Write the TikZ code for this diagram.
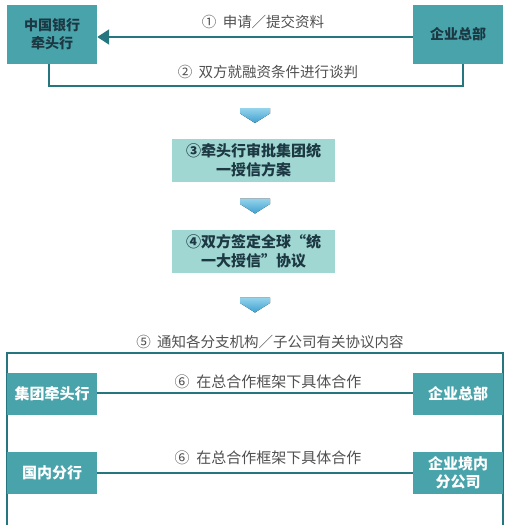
\documentclass[tikz,border=0pt]{standalone}
\usepackage{fontspec}
\usepackage{xcolor}
\usepackage{tikz}
\usetikzlibrary{arrows.meta,positioning,calc}
\newfontfamily\cjk{Noto Sans CJK SC}
\definecolor{tealbox}{RGB}{72,163,171}
\definecolor{lightbox}{RGB}{160,215,210}
\definecolor{tealline}{RGB}{38,118,128}
\definecolor{darktext}{RGB}{28,56,66}
\definecolor{greytext}{RGB}{80,80,80}
\definecolor{arrowtop}{RGB}{150,212,236}
\definecolor{arrowbot}{RGB}{62,160,208}
\tikzset{
  partybox/.style={fill=tealbox, align=center, minimum width=90pt, minimum height=59pt, inner sep=0pt, font=\cjk\bfseries\fontsize{14}{18}\selectfont, text=darktext},
  stepbox/.style={fill=lightbox, align=center, minimum width=163pt, minimum height=43pt, inner sep=0pt, font=\cjk\bfseries\fontsize{15}{19}\selectfont, text=darktext},
  unitbox/.style={fill=tealbox, align=center, minimum width=90pt, minimum height=42pt, inner sep=0pt, font=\cjk\bfseries\fontsize{15}{18}\selectfont, text=white},
  steplabel/.style={font=\cjk\fontsize{14.5}{17}\selectfont, text=greytext, inner sep=0pt},
  linkline/.style={draw=tealline, line width=2pt},
  linkarrow/.style={linkline, -{Triangle[length=12pt, width=15pt]}},
  fatdown/.style={top color=arrowtop, bottom color=arrowbot, draw=none}
}

\begin{document}
\begin{tikzpicture}[x=1pt, y=-1pt]
    \path[use as bounding box, clip] (0,0) rectangle (513,525);
    % top: bank and enterprise
    \node[partybox] (bank) at (52,34.5) {中国银行\\牵头行};
    \node[partybox] (hq) at (458,34.5) {企业总部};
    \draw[linkarrow] (hq.west |- 0,37) -- (bank.east |- 0,37);
    \node[steplabel] (apply) at (263,22) {①\ \ 申请／提交资料};
    \coordinate (talkL) at (49,86);
    \coordinate (talkR) at (463,86);
    \draw[linkline] (bank.south -| talkL) -- (talkL) -- (talkR) -- (hq.south -| talkR);
    \node[steplabel] (talk) at (268,72) {②\ \ 双方就融资条件进行谈判};
    % approval steps
    \node[stepbox] (approve) at (253.5,160) {③牵头行审批集团统\\一授信方案};
    \node[stepbox] (sign) at (253.5,251) {④双方签定全球“统\\一大授信”协议};
    \coordinate (down1) at (255,115.5);
    \coordinate (down2) at (255,206);
    \coordinate (down3) at (255,305);
    \foreach \c in {down1,down2,down3}
      \fill[fatdown] ($(\c)+(-15,-7.5)$) -- ($(\c)+(15,-7.5)$) -- ($(\c)+(15,-2)$)
        -- ($(\c)+(0,7.5)$) -- ($(\c)+(-15,-2)$) -- cycle;
    % cooperation frame
    \node[steplabel] (notify) at (270,342) {⑤\ \ 通知各分支机构／子公司有关协议内容};
    \draw[tealline, line width=2pt] (7,353) rectangle (503,540);
    \node[unitbox] (lead) at (52,393.5) {集团牵头行};
    \node[unitbox] (hq2) at (458,393.5) {企业总部};
    \draw[linkline] (lead.east |- 0,393) -- (hq2.west |- 0,393);
    \node[steplabel, font=\cjk\fontsize{15}{17}\selectfont] (coop1) at (268,382) {⑥\ \ 在总合作框架下具体合作};
    \node[unitbox] (branch) at (52,472.5) {国内分行};
    \node[unitbox] (sub) at (458,472.5) {企业境内\\分公司};
    \draw[linkline] (branch.east |- 0,473) -- (sub.west |- 0,473);
    \node[steplabel, font=\cjk\fontsize{15}{17}\selectfont] (coop2) at (268,458) {⑥\ \ 在总合作框架下具体合作};
\end{tikzpicture}
\end{document}
